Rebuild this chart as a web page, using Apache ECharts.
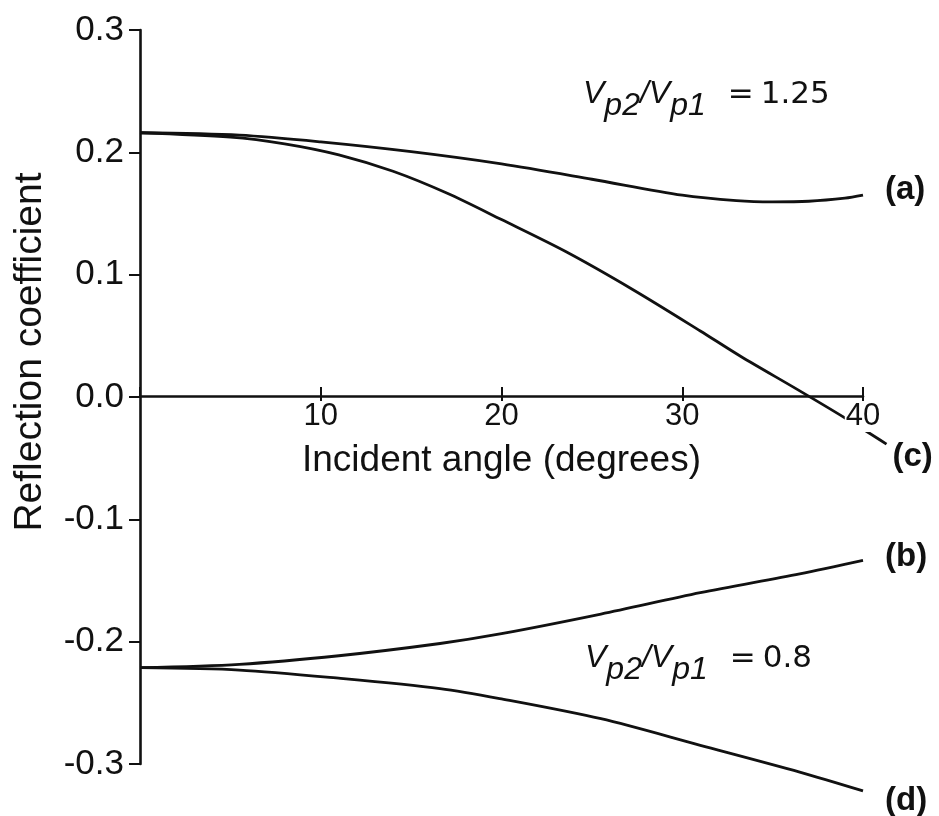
<!DOCTYPE html>
<html>
<head>
<meta charset="utf-8">
<title>Reflection coefficient vs incident angle</title>
<script src="https://cdn.jsdelivr.net/npm/echarts@6/dist/echarts.min.js"></script>
<style>
  html, body { margin: 0; padding: 0; background: #ffffff; }
  #chart { width: 939px; height: 816px; }
</style>
</head>
<body>
<div id="chart"></div>
<script>
// Incident angle (degrees) and P-wave reflection coefficient, one pair of arrays per curve
const angleA = [0, 5.5, 10, 15, 20, 25, 30, 33, 35, 37, 39, 40];
const valueA = [0.216, 0.214, 0.2085, 0.2005, 0.1905, 0.178, 0.165, 0.1605, 0.1595, 0.160, 0.1625, 0.165];

const angleC = [0, 5, 8, 11, 14, 17, 20, 23.6, 27.3, 31, 33.2, 36.5, 39.1, 41.3];
const valueC = [0.216, 0.2125, 0.207, 0.198, 0.1845, 0.1665, 0.145, 0.1185, 0.0875, 0.054, 0.0335, 0.005, -0.018, -0.0385];

const angleB = [0, 5.5, 11, 16.6, 20, 25.5, 31, 36.5, 40];
const valueB = [-0.2213, -0.2185, -0.2115, -0.2015, -0.1935, -0.1775, -0.160, -0.1445, -0.1335];

const angleD = [0, 5.5, 11.1, 16.6, 19.9, 25.5, 31, 36.5, 40];
const valueD = [-0.2213, -0.2232, -0.230, -0.2383, -0.2465, -0.263, -0.2847, -0.3066, -0.322];

const curveNames = ['(a)', '(b)', '(c)', '(d)'];

// Axis ranges and tick spacing
const xMin = 0, xMax = 40, xStep = 10;
const yMin = -0.3, yMax = 0.3, yStep = 0.1;
// curve (c) runs a little past the last tick, so the curve scale reaches further
const curveXMax = 42;

const FONT = '"Liberation Sans", Arial, Helvetica, sans-serif';
const NUM_FONT = '"DejaVu Sans", "Liberation Sans", sans-serif';
const INK = '#111111';

// Plot frame: the full frame holds the curves and the y axis;
// the upper frame ends at y = 0 so its bottom x axis sits on the zero line.
const chartWidth = 939;
const frame = { left: 140, right: 76, top: 30, bottom: 52 };
const zeroLineTop = 366; // height of the positive half of the frame
const plotWidth = chartWidth - frame.left - frame.right;
const curveFrameRight = frame.right - plotWidth * (curveXMax - xMax) / (xMax - xMin);

function pairs(xs, ys) {
  return xs.map((x, i) => [x, ys[i]]);
}

function curve(name, xs, ys, labelOffset, labelDistance) {
  return {
    name: name,
    type: 'line',
    xAxisIndex: 0,
    yAxisIndex: 0,
    data: pairs(xs, ys),
    smooth: 0.3,
    symbol: 'none',
    clip: false,
    lineStyle: { color: INK, width: 2.8 },
    endLabel: {
      show: true,
      formatter: name,
      color: INK,
      fontFamily: FONT,
      fontWeight: 'bold',
      fontSize: 33,
      distance: labelDistance,
      offset: labelOffset
    },
    emphasis: { disabled: true },
    silent: true,
    z: 2
  };
}

const chart = echarts.init(document.getElementById('chart'), null, { renderer: 'canvas' });

// Velocity-ratio annotations, V and the subscripts set in italic
const ctx = document.createElement('canvas').getContext('2d');
const italicFont = 'italic 32px ' + FONT;
const valueFont = '31px ' + NUM_FONT;

function ratioNote(left, baseline, ratioText) {
  const pieces = [
    { t: 'V', font: italicFont, drop: 0, gap: 0 },
    { t: 'p2', font: italicFont, drop: 12, gap: 0 },
    { t: '/V', font: italicFont, drop: 0, gap: 0 },
    { t: 'p1', font: italicFont, drop: 12, gap: 0 },
    { t: '=', font: valueFont, drop: 0, gap: 22 },
    { t: ratioText, font: valueFont, drop: 0, gap: 7 }
  ];
  const els = [];
  let x = left;
  pieces.forEach(p => {
    ctx.font = p.font;
    x += p.gap;
    els.push({
      type: 'text',
      silent: true,
      style: {
        text: p.t,
        x: x,
        y: baseline + p.drop,
        font: p.font,
        fill: INK,
        align: 'left',
        verticalAlign: 'bottom'
      }
    });
    x += ctx.measureText(p.t).width;
  });
  return els;
}

const option = {
  animation: false,
  backgroundColor: '#ffffff',
  grid: [
    { left: frame.left, right: curveFrameRight, top: frame.top, bottom: frame.bottom,
      containLabel: false, outerBoundsMode: 'none' },
    { left: frame.left, right: frame.right, top: frame.top, height: zeroLineTop,
      containLabel: false, outerBoundsMode: 'none' }
  ],
  xAxis: [
    {
      // scale for the curves
      type: 'value', gridIndex: 0,
      min: xMin, max: curveXMax,
      show: false
    },
    {
      // visible angle axis along the zero line
      type: 'value', gridIndex: 1, position: 'bottom',
      min: xMin, max: xMax, interval: xStep,
      z: 5,
      axisLine: { show: true, onZero: false, lineStyle: { color: INK, width: 2.6 } },
      axisTick: { show: true, inside: false, length: 9, lineStyle: { color: INK, width: 2 } },
      axisLabel: {
        show: true,
        showMinLabel: false,
        margin: 5,
        color: INK,
        fontFamily: FONT,
        fontSize: 31,
        backgroundColor: '#ffffff',
        padding: [0, 1, 0, 1]
      },
      splitLine: { show: false },
      name: 'Incident angle (degrees)',
      nameLocation: 'middle',
      nameGap: 46,
      nameTextStyle: { color: INK, fontFamily: FONT, fontSize: 37 }
    },
    {
      // upper half of the crossing tick marks
      type: 'value', gridIndex: 1, position: 'bottom',
      min: xMin, max: xMax, interval: xStep,
      z: 5,
      axisLine: { show: false, onZero: false },
      axisTick: { show: true, inside: true, length: 9, lineStyle: { color: INK, width: 2 } },
      axisLabel: { show: false },
      splitLine: { show: false }
    }
  ],
  yAxis: [
    {
      type: 'value', gridIndex: 0,
      min: yMin, max: yMax, interval: yStep,
      axisLine: { show: true, onZero: false, lineStyle: { color: INK, width: 2.6 } },
      axisTick: { show: true, inside: false, length: 11, lineStyle: { color: INK, width: 2 } },
      axisLabel: {
        margin: 16,
        color: INK,
        fontFamily: FONT,
        fontSize: 35,
        formatter: v => (Math.abs(v) < 1e-9 ? 0 : v).toFixed(1)
      },
      splitLine: { show: false },
      name: 'Reflection coefficient',
      nameLocation: 'middle',
      nameRotate: 90,
      nameGap: 90,
      nameTextStyle: { color: INK, fontFamily: FONT, fontSize: 39, padding: [0, 0, 0, 90] }
    },
    {
      type: 'value', gridIndex: 1,
      min: 0, max: yMax,
      show: false
    }
  ],
  series: [
    curve(curveNames[0], angleA, valueA, [0, -5], 22),
    curve(curveNames[1], angleB, valueB, [0, -3], 22),
    curve(curveNames[2], angleC, valueC, [0, 13], 6),
    curve(curveNames[3], angleD, valueD, [0, 10], 22)
  ],
  graphic: [].concat(
    ratioNote(583, 110, '1.25'),
    ratioNote(585, 674, '0.8')
  )
};

chart.setOption(option);
</script>
</body>
</html>
